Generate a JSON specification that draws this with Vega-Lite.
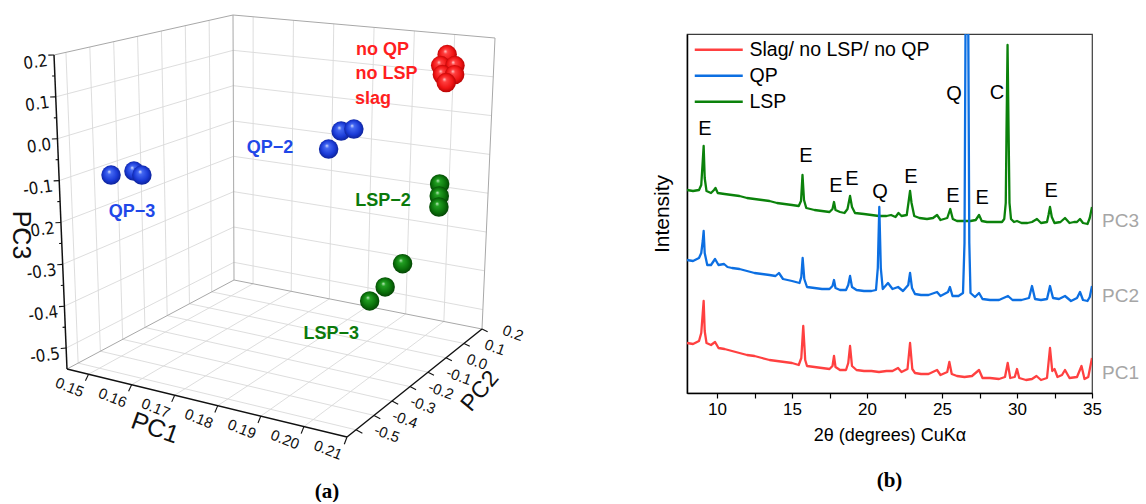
{
 "$schema": "https://vega.github.io/schema/vega-lite/v6.json",
 "padding": 0,
 "background": "white",
 "config": {"font": "Liberation Sans", "view": {"stroke": null}},
 "bounds": "flush",
 "spacing": 67,
 "datasets": {
  "L": [
   {"k":"g","a":0.15,"b":0.2,"c":-0.55,"a2":0.15,"b2":0.2,"c2":0.2},
   {"k":"g","a":0.16,"b":0.2,"c":-0.55,"a2":0.16,"b2":0.2,"c2":0.2},
   {"k":"g","a":0.17,"b":0.2,"c":-0.55,"a2":0.17,"b2":0.2,"c2":0.2},
   {"k":"g","a":0.18,"b":0.2,"c":-0.55,"a2":0.18,"b2":0.2,"c2":0.2},
   {"k":"g","a":0.19,"b":0.2,"c":-0.55,"a2":0.19,"b2":0.2,"c2":0.2},
   {"k":"g","a":0.20,"b":0.2,"c":-0.55,"a2":0.20,"b2":0.2,"c2":0.2},
   {"k":"g","a":0.145,"b":0.2,"c":-0.5,"a2":0.21,"b2":0.2,"c2":-0.5},
   {"k":"g","a":0.145,"b":0.2,"c":-0.4,"a2":0.21,"b2":0.2,"c2":-0.4},
   {"k":"g","a":0.145,"b":0.2,"c":-0.3,"a2":0.21,"b2":0.2,"c2":-0.3},
   {"k":"g","a":0.145,"b":0.2,"c":-0.2,"a2":0.21,"b2":0.2,"c2":-0.2},
   {"k":"g","a":0.145,"b":0.2,"c":-0.1,"a2":0.21,"b2":0.2,"c2":-0.1},
   {"k":"g","a":0.145,"b":0.2,"c":0.0,"a2":0.21,"b2":0.2,"c2":0.0},
   {"k":"g","a":0.145,"b":0.2,"c":0.1,"a2":0.21,"b2":0.2,"c2":0.1},
   {"k":"g","a":0.145,"b":-0.5,"c":-0.55,"a2":0.145,"b2":-0.5,"c2":0.2},
   {"k":"g","a":0.145,"b":-0.4,"c":-0.55,"a2":0.145,"b2":-0.4,"c2":0.2},
   {"k":"g","a":0.145,"b":-0.3,"c":-0.55,"a2":0.145,"b2":-0.3,"c2":0.2},
   {"k":"g","a":0.145,"b":-0.2,"c":-0.55,"a2":0.145,"b2":-0.2,"c2":0.2},
   {"k":"g","a":0.145,"b":-0.1,"c":-0.55,"a2":0.145,"b2":-0.1,"c2":0.2},
   {"k":"g","a":0.145,"b":0.0,"c":-0.55,"a2":0.145,"b2":0.0,"c2":0.2},
   {"k":"g","a":0.145,"b":0.1,"c":-0.55,"a2":0.145,"b2":0.1,"c2":0.2},
   {"k":"g","a":0.145,"b":-0.55,"c":-0.5,"a2":0.145,"b2":0.2,"c2":-0.5},
   {"k":"g","a":0.145,"b":-0.55,"c":-0.4,"a2":0.145,"b2":0.2,"c2":-0.4},
   {"k":"g","a":0.145,"b":-0.55,"c":-0.3,"a2":0.145,"b2":0.2,"c2":-0.3},
   {"k":"g","a":0.145,"b":-0.55,"c":-0.2,"a2":0.145,"b2":0.2,"c2":-0.2},
   {"k":"g","a":0.145,"b":-0.55,"c":-0.1,"a2":0.145,"b2":0.2,"c2":-0.1},
   {"k":"g","a":0.145,"b":-0.55,"c":0.0,"a2":0.145,"b2":0.2,"c2":0.0},
   {"k":"g","a":0.145,"b":-0.55,"c":0.1,"a2":0.145,"b2":0.2,"c2":0.1},
   {"k":"g","a":0.15,"b":-0.55,"c":-0.55,"a2":0.15,"b2":0.2,"c2":-0.55},
   {"k":"g","a":0.16,"b":-0.55,"c":-0.55,"a2":0.16,"b2":0.2,"c2":-0.55},
   {"k":"g","a":0.17,"b":-0.55,"c":-0.55,"a2":0.17,"b2":0.2,"c2":-0.55},
   {"k":"g","a":0.18,"b":-0.55,"c":-0.55,"a2":0.18,"b2":0.2,"c2":-0.55},
   {"k":"g","a":0.19,"b":-0.55,"c":-0.55,"a2":0.19,"b2":0.2,"c2":-0.55},
   {"k":"g","a":0.20,"b":-0.55,"c":-0.55,"a2":0.20,"b2":0.2,"c2":-0.55},
   {"k":"g","a":0.145,"b":-0.5,"c":-0.55,"a2":0.21,"b2":-0.5,"c2":-0.55},
   {"k":"g","a":0.145,"b":-0.4,"c":-0.55,"a2":0.21,"b2":-0.4,"c2":-0.55},
   {"k":"g","a":0.145,"b":-0.3,"c":-0.55,"a2":0.21,"b2":-0.3,"c2":-0.55},
   {"k":"g","a":0.145,"b":-0.2,"c":-0.55,"a2":0.21,"b2":-0.2,"c2":-0.55},
   {"k":"g","a":0.145,"b":-0.1,"c":-0.55,"a2":0.21,"b2":-0.1,"c2":-0.55},
   {"k":"g","a":0.145,"b":0.0,"c":-0.55,"a2":0.21,"b2":0.0,"c2":-0.55},
   {"k":"g","a":0.145,"b":0.1,"c":-0.55,"a2":0.21,"b2":0.1,"c2":-0.55},
   {"k":"e","a":0.145,"b":0.2,"c":0.2,"a2":0.21,"b2":0.2,"c2":0.2},
   {"k":"e","a":0.21,"b":0.2,"c":-0.55,"a2":0.21,"b2":0.2,"c2":0.2},
   {"k":"e","a":0.145,"b":0.2,"c":-0.55,"a2":0.145,"b2":0.2,"c2":0.2},
   {"k":"e","a":0.145,"b":0.2,"c":-0.55,"a2":0.21,"b2":0.2,"c2":-0.55},
   {"k":"e","a":0.145,"b":-0.55,"c":0.2,"a2":0.145,"b2":0.2,"c2":0.2},
   {"k":"e","a":0.145,"b":-0.55,"c":-0.55,"a2":0.145,"b2":0.2,"c2":-0.55},
   {"k":"ax","a":0.145,"b":-0.55,"c":-0.55,"a2":0.145,"b2":-0.55,"c2":0.2},
   {"k":"ax","a":0.145,"b":-0.55,"c":-0.55,"a2":0.21,"b2":-0.55,"c2":-0.55},
   {"k":"ax","a":0.21,"b":-0.55,"c":-0.55,"a2":0.21,"b2":0.2,"c2":-0.55},
   {"k":"P3","a":0.145,"b":-0.55,"c":0.2,"t":"0.2"},
   {"k":"P3","a":0.145,"b":-0.55,"c":0.1,"t":"0.1"},
   {"k":"P3","a":0.145,"b":-0.55,"c":0.0,"t":"0.0"},
   {"k":"P3","a":0.145,"b":-0.55,"c":-0.1,"t":"-0.1"},
   {"k":"P3","a":0.145,"b":-0.55,"c":-0.2,"t":"-0.2"},
   {"k":"P3","a":0.145,"b":-0.55,"c":-0.3,"t":"-0.3"},
   {"k":"P3","a":0.145,"b":-0.55,"c":-0.4,"t":"-0.4"},
   {"k":"P3","a":0.145,"b":-0.55,"c":-0.5,"t":"-0.5"},
   {"k":"m3","a":0.145,"b":-0.55,"c":0.15},
   {"k":"m3","a":0.145,"b":-0.55,"c":0.05},
   {"k":"m3","a":0.145,"b":-0.55,"c":-0.05},
   {"k":"m3","a":0.145,"b":-0.55,"c":-0.15},
   {"k":"m3","a":0.145,"b":-0.55,"c":-0.25},
   {"k":"m3","a":0.145,"b":-0.55,"c":-0.35},
   {"k":"m3","a":0.145,"b":-0.55,"c":-0.45},
   {"k":"P1","a":0.15,"b":-0.55,"c":-0.55,"t":"0.15"},
   {"k":"P1","a":0.16,"b":-0.55,"c":-0.55,"t":"0.16"},
   {"k":"P1","a":0.17,"b":-0.55,"c":-0.55,"t":"0.17"},
   {"k":"P1","a":0.18,"b":-0.55,"c":-0.55,"t":"0.18"},
   {"k":"P1","a":0.19,"b":-0.55,"c":-0.55,"t":"0.19"},
   {"k":"P1","a":0.20,"b":-0.55,"c":-0.55,"t":"0.20"},
   {"k":"P1","a":0.21,"b":-0.55,"c":-0.55,"t":"0.21"},
   {"k":"P2","a":0.21,"b":-0.5,"c":-0.55,"t":"-0.5"},
   {"k":"P2","a":0.21,"b":-0.4,"c":-0.55,"t":"-0.4"},
   {"k":"P2","a":0.21,"b":-0.3,"c":-0.55,"t":"-0.3"},
   {"k":"P2","a":0.21,"b":-0.2,"c":-0.55,"t":"-0.2"},
   {"k":"P2","a":0.21,"b":-0.1,"c":-0.55,"t":"-0.1"},
   {"k":"P2","a":0.21,"b":0.0,"c":-0.55,"t":"0.0"},
   {"k":"P2","a":0.21,"b":0.1,"c":-0.55,"t":"0.1"},
   {"k":"P2","a":0.21,"b":0.2,"c":-0.55,"t":"0.2"},
   {"k":"T3","a":0.145,"b":-0.55,"c":-0.2,"t":"PC3"},
   {"k":"T1","a":0.1725,"b":-0.55,"c":-0.55,"t":"PC1"},
   {"k":"T2","a":0.21,"b":-0.15,"c":-0.55,"t":"PC2"},
   {"k":"s","g":"R","a":0.2020,"b":0.125,"c":0.1643},
   {"k":"s","g":"R","a":0.2005,"b":0.125,"c":0.1346},
   {"k":"s","g":"R","a":0.2040,"b":0.125,"c":0.1382},
   {"k":"s","g":"R","a":0.2010,"b":0.125,"c":0.1121},
   {"k":"s","g":"R","a":0.2040,"b":0.125,"c":0.1152},
   {"k":"s","g":"R","a":0.2020,"b":0.125,"c":0.0926},
   {"k":"s","g":"B","a":0.1509,"b":-0.4375,"c":-0.0975},
   {"k":"s","g":"B","a":0.1562,"b":-0.4375,"c":-0.0784},
   {"k":"s","g":"B","a":0.1580,"b":-0.4375,"c":-0.0848},
   {"k":"s","g":"B","a":0.1821,"b":0.0125,"c":-0.0323},
   {"k":"s","g":"B","a":0.1852,"b":0.0125,"c":-0.0228},
   {"k":"s","g":"B","a":0.1791,"b":0.0125,"c":-0.0827},
   {"k":"s","g":"G","a":0.2030,"b":0.0875,"c":-0.1555},
   {"k":"s","g":"G","a":0.2030,"b":0.0875,"c":-0.1859},
   {"k":"s","g":"G","a":0.2030,"b":0.0875,"c":-0.2138},
   {"k":"s","g":"G","a":0.2065,"b":-0.175,"c":-0.2735},
   {"k":"s","g":"G","a":0.2024,"b":-0.175,"c":-0.3365},
   {"k":"s","g":"G","a":0.1987,"b":-0.175,"c":-0.3771},
   {"k":"l","g":"B","a":0.1555,"b":-0.4375,"c":-0.1785,"t":"QP−3"},
   {"k":"l","g":"B","a":0.1647,"b":0.0125,"c":-0.1028,"t":"QP−2"},
   {"k":"l","g":"G","a":0.18898,"b":0.0875,"c":-0.2205,"t":"LSP−2"},
   {"k":"l","g":"G","a":0.18945,"b":-0.175,"c":-0.4765,"t":"LSP−3"},
   {"k":"r","g":"R","a":0.1796,"b":0.125,"c":0.1533,"t":"no QP"},
   {"k":"r","g":"R","a":0.1796,"b":0.125,"c":0.0893,"t":"no LSP"},
   {"k":"r","g":"R","a":0.1796,"b":0.125,"c":0.0228,"t":"slag"}
  ],
  "X": [
   {"s":"R","x":8.0,"y":50},{"s":"R","x":8.4,"y":49},{"s":"R","x":8.8,"y":52},{"s":"R","x":8.95,"y":60},{"s":"R","x":9.05,"y":80},{"s":"R","x":9.11,"y":92},{"s":"R","x":9.18,"y":62},{"s":"R","x":9.3,"y":50},{"s":"R","x":9.6,"y":48},{"s":"R","x":9.87,"y":51},{"s":"R","x":10.1,"y":45},{"s":"R","x":10.5,"y":44},{"s":"R","x":11.0,"y":42},{"s":"R","x":11.5,"y":40},{"s":"R","x":12.0,"y":38},{"s":"R","x":12.5,"y":37},{"s":"R","x":13.0,"y":35},{"s":"R","x":13.5,"y":33},{"s":"R","x":14.0,"y":32},{"s":"R","x":14.5,"y":31},{"s":"R","x":15.0,"y":30},{"s":"R","x":15.45,"y":28},{"s":"R","x":15.62,"y":35},{"s":"R","x":15.75,"y":67},{"s":"R","x":15.88,"y":33},{"s":"R","x":16.0,"y":27},{"s":"R","x":16.5,"y":26},{"s":"R","x":17.0,"y":25},{"s":"R","x":17.5,"y":24},{"s":"R","x":17.7,"y":27},{"s":"R","x":17.8,"y":37},{"s":"R","x":17.9,"y":26},{"s":"R","x":18.2,"y":23},{"s":"R","x":18.6,"y":23},{"s":"R","x":18.75,"y":30},{"s":"R","x":18.87,"y":47},{"s":"R","x":19.0,"y":27},{"s":"R","x":19.3,"y":23},{"s":"R","x":19.8,"y":22},{"s":"R","x":20.3,"y":22},{"s":"R","x":20.8,"y":21},{"s":"R","x":21.3,"y":22},{"s":"R","x":21.7,"y":22},{"s":"R","x":22.07,"y":25},{"s":"R","x":22.3,"y":21},{"s":"R","x":22.7,"y":24},{"s":"R","x":22.87,"y":50},{"s":"R","x":23.02,"y":24},{"s":"R","x":23.2,"y":20},{"s":"R","x":23.6,"y":19},{"s":"R","x":24.1,"y":19},{"s":"R","x":24.67,"y":23},{"s":"R","x":24.9,"y":18},{"s":"R","x":25.35,"y":21},{"s":"R","x":25.49,"y":31},{"s":"R","x":25.65,"y":19},{"s":"R","x":26.0,"y":17},{"s":"R","x":26.5,"y":16},{"s":"R","x":27.0,"y":17},{"s":"R","x":27.47,"y":23},{"s":"R","x":27.7,"y":15},{"s":"R","x":28.2,"y":15},{"s":"R","x":28.8,"y":14},{"s":"R","x":29.2,"y":16},{"s":"R","x":29.38,"y":30},{"s":"R","x":29.55,"y":15},{"s":"R","x":29.85,"y":16},{"s":"R","x":30.0,"y":24},{"s":"R","x":30.15,"y":15},{"s":"R","x":30.6,"y":13},{"s":"R","x":31.0,"y":14},{"s":"R","x":31.3,"y":17},{"s":"R","x":31.6,"y":13},{"s":"R","x":32.0,"y":15},{"s":"R","x":32.2,"y":45},{"s":"R","x":32.35,"y":22},{"s":"R","x":32.5,"y":24},{"s":"R","x":32.7,"y":16},{"s":"R","x":33.0,"y":18},{"s":"R","x":33.2,"y":23},{"s":"R","x":33.5,"y":15},{"s":"R","x":34.0,"y":16},{"s":"R","x":34.3,"y":27},{"s":"R","x":34.5,"y":14},{"s":"R","x":34.75,"y":16},{"s":"R","x":35.0,"y":35},
   {"s":"G","x":8.0,"y":203},{"s":"G","x":8.4,"y":202},{"s":"G","x":8.8,"y":203},{"s":"G","x":8.95,"y":208},{"s":"G","x":9.05,"y":232},{"s":"G","x":9.11,"y":247},{"s":"G","x":9.18,"y":215},{"s":"G","x":9.3,"y":202},{"s":"G","x":9.6,"y":200},{"s":"G","x":9.8,"y":203},{"s":"G","x":9.9,"y":205},{"s":"G","x":10.05,"y":200},{"s":"G","x":10.5,"y":199},{"s":"G","x":11.0,"y":198},{"s":"G","x":11.5,"y":197},{"s":"G","x":12.0,"y":195},{"s":"G","x":12.5,"y":194},{"s":"G","x":13.0,"y":193},{"s":"G","x":13.5,"y":192},{"s":"G","x":14.0,"y":190},{"s":"G","x":14.5,"y":189},{"s":"G","x":15.0,"y":188},{"s":"G","x":15.45,"y":187},{"s":"G","x":15.6,"y":192},{"s":"G","x":15.7,"y":218},{"s":"G","x":15.8,"y":193},{"s":"G","x":15.95,"y":185},{"s":"G","x":16.5,"y":183},{"s":"G","x":17.0,"y":182},{"s":"G","x":17.5,"y":181},{"s":"G","x":17.7,"y":184},{"s":"G","x":17.8,"y":191},{"s":"G","x":17.9,"y":183},{"s":"G","x":18.2,"y":181},{"s":"G","x":18.5,"y":180},{"s":"G","x":18.7,"y":184},{"s":"G","x":18.87,"y":197},{"s":"G","x":19.0,"y":186},{"s":"G","x":19.2,"y":180},{"s":"G","x":19.8,"y":179},{"s":"G","x":20.3,"y":178},{"s":"G","x":20.8,"y":177},{"s":"G","x":21.3,"y":177},{"s":"G","x":21.6,"y":178},{"s":"G","x":21.9,"y":176},{"s":"G","x":22.1,"y":180},{"s":"G","x":22.3,"y":177},{"s":"G","x":22.65,"y":178},{"s":"G","x":22.78,"y":192},{"s":"G","x":22.87,"y":202},{"s":"G","x":22.97,"y":190},{"s":"G","x":23.15,"y":177},{"s":"G","x":23.5,"y":175},{"s":"G","x":24.0,"y":174},{"s":"G","x":24.4,"y":175},{"s":"G","x":24.67,"y":178},{"s":"G","x":24.9,"y":173},{"s":"G","x":25.35,"y":175},{"s":"G","x":25.55,"y":184},{"s":"G","x":25.72,"y":174},{"s":"G","x":26.0,"y":172},{"s":"G","x":26.4,"y":172},{"s":"G","x":26.9,"y":172},{"s":"G","x":27.25,"y":173},{"s":"G","x":27.47,"y":178},{"s":"G","x":27.65,"y":172},{"s":"G","x":28.0,"y":171},{"s":"G","x":28.5,"y":171},{"s":"G","x":29.0,"y":171},{"s":"G","x":29.15,"y":174},{"s":"G","x":29.25,"y":190},{"s":"G","x":29.3,"y":260},{"s":"G","x":29.37,"y":348},{"s":"G","x":29.44,"y":260},{"s":"G","x":29.5,"y":190},{"s":"G","x":29.6,"y":174},{"s":"G","x":29.8,"y":171},{"s":"G","x":30.0,"y":172},{"s":"G","x":30.3,"y":170},{"s":"G","x":30.7,"y":170},{"s":"G","x":31.0,"y":171},{"s":"G","x":31.33,"y":174},{"s":"G","x":31.6,"y":170},{"s":"G","x":32.0,"y":171},{"s":"G","x":32.1,"y":178},{"s":"G","x":32.2,"y":186},{"s":"G","x":32.32,"y":176},{"s":"G","x":32.5,"y":170},{"s":"G","x":32.9,"y":171},{"s":"G","x":33.2,"y":175},{"s":"G","x":33.5,"y":170},{"s":"G","x":33.8,"y":171},{"s":"G","x":34.0,"y":171},{"s":"G","x":34.2,"y":174},{"s":"G","x":34.4,"y":170},{"s":"G","x":34.7,"y":169},{"s":"G","x":34.85,"y":175},{"s":"G","x":35.0,"y":186},
   {"s":"B","x":8.0,"y":133},{"s":"B","x":8.4,"y":132},{"s":"B","x":8.8,"y":135},{"s":"B","x":8.95,"y":140},{"s":"B","x":9.05,"y":152},{"s":"B","x":9.11,"y":162},{"s":"B","x":9.18,"y":140},{"s":"B","x":9.35,"y":128},{"s":"B","x":9.6,"y":128},{"s":"B","x":9.87,"y":134},{"s":"B","x":10.1,"y":128},{"s":"B","x":10.47,"y":129},{"s":"B","x":10.7,"y":126},{"s":"B","x":11.0,"y":125},{"s":"B","x":11.5,"y":124},{"s":"B","x":12.0,"y":122},{"s":"B","x":12.5,"y":120},{"s":"B","x":13.0,"y":119},{"s":"B","x":13.5,"y":118},{"s":"B","x":13.9,"y":117},{"s":"B","x":14.13,"y":120},{"s":"B","x":14.4,"y":114},{"s":"B","x":15.0,"y":112},{"s":"B","x":15.5,"y":110},{"s":"B","x":15.62,"y":116},{"s":"B","x":15.71,"y":135},{"s":"B","x":15.82,"y":114},{"s":"B","x":16.0,"y":106},{"s":"B","x":16.5,"y":105},{"s":"B","x":17.0,"y":104},{"s":"B","x":17.5,"y":104},{"s":"B","x":17.7,"y":107},{"s":"B","x":17.8,"y":113},{"s":"B","x":17.9,"y":105},{"s":"B","x":18.2,"y":103},{"s":"B","x":18.6,"y":103},{"s":"B","x":18.75,"y":108},{"s":"B","x":18.87,"y":117},{"s":"B","x":19.0,"y":106},{"s":"B","x":19.3,"y":103},{"s":"B","x":19.8,"y":102},{"s":"B","x":20.3,"y":102},{"s":"B","x":20.6,"y":103},{"s":"B","x":20.72,"y":125},{"s":"B","x":20.82,"y":186},{"s":"B","x":20.92,"y":125},{"s":"B","x":21.05,"y":104},{"s":"B","x":21.4,"y":110},{"s":"B","x":21.7,"y":104},{"s":"B","x":22.07,"y":106},{"s":"B","x":22.4,"y":102},{"s":"B","x":22.75,"y":108},{"s":"B","x":22.87,"y":120},{"s":"B","x":23.0,"y":105},{"s":"B","x":23.2,"y":99},{"s":"B","x":23.6,"y":98},{"s":"B","x":24.1,"y":98},{"s":"B","x":24.67,"y":101},{"s":"B","x":24.9,"y":97},{"s":"B","x":25.4,"y":101},{"s":"B","x":25.53,"y":106},{"s":"B","x":25.7,"y":97},{"s":"B","x":26.1,"y":97},{"s":"B","x":26.4,"y":100},{"s":"B","x":26.5,"y":150},{"s":"B","x":26.56,"y":340},{"s":"B","x":26.62,"y":520},{"s":"B","x":26.7,"y":520},{"s":"B","x":26.76,"y":340},{"s":"B","x":26.82,"y":150},{"s":"B","x":26.9,"y":100},{"s":"B","x":27.2,"y":96},{"s":"B","x":27.47,"y":100},{"s":"B","x":27.7,"y":94},{"s":"B","x":28.2,"y":93},{"s":"B","x":28.8,"y":93},{"s":"B","x":29.4,"y":97},{"s":"B","x":29.7,"y":93},{"s":"B","x":30.3,"y":93},{"s":"B","x":30.8,"y":95},{"s":"B","x":31.0,"y":107},{"s":"B","x":31.2,"y":94},{"s":"B","x":31.6,"y":93},{"s":"B","x":32.0,"y":94},{"s":"B","x":32.2,"y":107},{"s":"B","x":32.4,"y":95},{"s":"B","x":32.8,"y":94},{"s":"B","x":33.2,"y":97},{"s":"B","x":33.6,"y":92},{"s":"B","x":34.0,"y":95},{"s":"B","x":34.2,"y":101},{"s":"B","x":34.4,"y":93},{"s":"B","x":34.7,"y":92},{"s":"B","x":34.85,"y":96},{"s":"B","x":35.0,"y":107}
  ],
  "A": [
   {"x":9.2,"y":264,"t":"E"},{"x":15.93,"y":237,"t":"E"},{"x":17.93,"y":207,"t":"E"},{"x":19.0,"y":214,"t":"E"},{"x":20.87,"y":201,"t":"Q"},{"x":22.93,"y":216,"t":"E"},{"x":25.73,"y":197,"t":"E"},{"x":27.67,"y":195,"t":"E"},{"x":25.8,"y":299,"t":"Q"},{"x":28.67,"y":300,"t":"C"},{"x":32.27,"y":202,"t":"E"}
  ],
  "P": [
   {"x":35,"y":172,"t":"PC3"},{"x":35,"y":97,"t":"PC2"},{"x":35,"y":20,"t":"PC1"}
  ]
 },
 "hconcat": [
  {
   "width": 620,
   "height": 470,
   "title": {"text": "(a)", "orient": "bottom", "frame": "group", "offset": 8, "dx": 17, "font": "Liberation Serif", "fontSize": 21, "fontWeight": "bold", "color": "#000", "anchor": "middle", "baseline": "top"},
   "data": {"name": "L"},
   "transform": [
    {"calculate": "isValid(datum.a2) ? datum.a2 : datum.a + (datum.k=='P3' ? -0.0007 : datum.k=='m3' ? -0.00035 : datum.k=='P2' ? 0.0015 : 0)", "as": "A2"},
    {"calculate": "isValid(datum.b2) ? datum.b2 : datum.b + (datum.k=='P3' ? -0.0105 : datum.k=='m3' ? -0.005 : datum.k=='P1' ? -0.015 : 0)", "as": "B2"},
    {"calculate": "isValid(datum.c2) ? datum.c2 : datum.c + (datum.k=='P1' ? -0.011 : datum.k=='P2' ? -0.004 : 0)", "as": "C2"},
    {"calculate": "(datum.a-0.145)/0.065", "as": "u"},
    {"calculate": "(datum.b+0.55)/0.75", "as": "v"},
    {"calculate": "(datum.c+0.55)/0.75", "as": "w"},
    {"calculate": "(datum.A2-0.145)/0.065", "as": "u2"},
    {"calculate": "(datum.B2+0.55)/0.75", "as": "v2"},
    {"calculate": "(datum.C2+0.55)/0.75", "as": "w2"},
    {"calculate": "(1-datum.w)*((1-datum.v)*(67+280*datum.u)+datum.v*(234+248*datum.u))+datum.w*((1-datum.v)*(54+294*datum.u)+datum.v*(233+262*datum.u))", "as": "X"},
    {"calculate": "(1-datum.w)*((1-datum.v)*(366+68*datum.u)+datum.v*(277+49*datum.u))+datum.w*((1-datum.v)*(52+40*datum.u)+datum.v*(12+23*datum.u))", "as": "Y"},
    {"calculate": "(1-datum.w2)*((1-datum.v2)*(67+280*datum.u2)+datum.v2*(234+248*datum.u2))+datum.w2*((1-datum.v2)*(54+294*datum.u2)+datum.v2*(233+262*datum.u2))", "as": "X2"},
    {"calculate": "(1-datum.w2)*((1-datum.v2)*(366+68*datum.u2)+datum.v2*(277+49*datum.u2))+datum.w2*((1-datum.v2)*(52+40*datum.u2)+datum.v2*(12+23*datum.u2))", "as": "Y2"}
   ],
   "encoding": {
    "x": {"field": "X", "type": "quantitative", "scale": {"domain": [0, 620], "nice": false, "zero": false}, "axis": null},
    "y": {"field": "Y", "type": "quantitative", "scale": {"domain": [0, 470], "reverse": true, "nice": false, "zero": false}, "axis": null}
   },
   "layer": [
    {"transform": [{"filter": "datum.k=='g'"}], "mark": {"type": "rule", "stroke": "#d9d9d9", "strokeWidth": 0.9}, "encoding": {"x2": {"field": "X2"}, "y2": {"field": "Y2"}}},
    {"transform": [{"filter": "datum.k=='e'"}], "mark": {"type": "rule", "stroke": "#a8a8a8", "strokeWidth": 1}, "encoding": {"x2": {"field": "X2"}, "y2": {"field": "Y2"}}},
    {"transform": [{"filter": "datum.k=='ax'"}], "mark": {"type": "rule", "stroke": "#111", "strokeWidth": 1.5}, "encoding": {"x2": {"field": "X2"}, "y2": {"field": "Y2"}}},
    {"transform": [{"filter": "indexof(['P1','P2','P3','m3'], datum.k) >= 0"}], "mark": {"type": "rule", "stroke": "#111", "strokeWidth": 1.1}, "encoding": {"x2": {"field": "X2"}, "y2": {"field": "Y2"}}},
    {"transform": [{"filter": "datum.k=='P3'"}], "mark": {"type": "text", "align": "right", "baseline": "middle", "dx": -7, "dy": 5, "angle": 352, "fontSize": 17, "font": "Liberation Sans Narrow, DejaVu Sans Condensed, Liberation Sans", "color": "#111"}, "encoding": {"text": {"field": "t"}}},
    {"transform": [{"filter": "datum.k=='P1'"}], "mark": {"type": "text", "align": "center", "baseline": "middle", "dx": -12.7, "dy": 19.2, "angle": 22, "fontSize": 15, "color": "#111"}, "encoding": {"text": {"field": "t"}}},
    {"transform": [{"filter": "datum.k=='P2'"}], "mark": {"type": "text", "align": "center", "baseline": "middle", "dx": 30.5, "dy": -6.8, "angle": 20, "fontSize": 15, "color": "#111"}, "encoding": {"text": {"field": "t"}}},
    {"transform": [{"filter": "datum.k=='T3'"}], "mark": {"type": "text", "align": "center", "baseline": "middle", "dx": 12.5, "dy": 40, "angle": 90, "fontSize": 25, "color": "#111"}, "encoding": {"text": {"field": "t"}}},
    {"transform": [{"filter": "datum.k=='T1'"}], "mark": {"type": "text", "align": "center", "baseline": "middle", "dx": -18.3, "dy": 38.8, "angle": 20, "fontSize": 25, "color": "#111"}, "encoding": {"text": {"field": "t"}}},
    {"transform": [{"filter": "datum.k=='T2'"}], "mark": {"type": "text", "align": "center", "baseline": "middle", "dx": 30.3, "dy": 54.2, "angle": 310, "fontSize": 23, "color": "#111"}, "encoding": {"text": {"field": "t"}}},
    {"transform": [{"filter": "datum.k=='s' && datum.g=='R'"}], "mark": {"type": "point", "shape": "circle", "filled": true, "size": 380, "opacity": 1, "strokeWidth": 0, "fill": {"gradient": "radial", "x1": 0.4, "y1": 0.32, "r1": 0, "x2": 0.5, "y2": 0.5, "r2": 0.55, "stops": [{"offset": 0, "color": "#ffd6d6"}, {"offset": 0.2, "color": "#ff4040"}, {"offset": 0.65, "color": "#f01414"}, {"offset": 1, "color": "#a80000"}]}}},
    {"transform": [{"filter": "datum.k=='s' && datum.g=='B'"}], "mark": {"type": "point", "shape": "circle", "filled": true, "size": 380, "opacity": 1, "strokeWidth": 0, "fill": {"gradient": "radial", "x1": 0.4, "y1": 0.32, "r1": 0, "x2": 0.5, "y2": 0.5, "r2": 0.55, "stops": [{"offset": 0, "color": "#dfe6ff"}, {"offset": 0.2, "color": "#4468f2"}, {"offset": 0.65, "color": "#1a3ad6"}, {"offset": 1, "color": "#0a1c8a"}]}}},
    {"transform": [{"filter": "datum.k=='s' && datum.g=='G'"}], "mark": {"type": "point", "shape": "circle", "filled": true, "size": 380, "opacity": 1, "strokeWidth": 0, "fill": {"gradient": "radial", "x1": 0.4, "y1": 0.32, "r1": 0, "x2": 0.5, "y2": 0.5, "r2": 0.55, "stops": [{"offset": 0, "color": "#c8f0c8"}, {"offset": 0.2, "color": "#22a022"}, {"offset": 0.65, "color": "#0a700a"}, {"offset": 1, "color": "#033a03"}]}}},
    {"transform": [{"filter": "datum.k=='l'"}], "mark": {"type": "text", "align": "center", "baseline": "middle", "fontSize": 18, "fontWeight": "bold"}, "encoding": {"text": {"field": "t"}, "color": {"condition": {"test": "datum.g=='G'", "value": "#0b7a0b"}, "value": "#1f48e8"}}},
    {"transform": [{"filter": "datum.k=='r'"}], "mark": {"type": "text", "align": "left", "baseline": "middle", "fontSize": 18, "fontWeight": "bold", "color": "#ff1f1f"}, "encoding": {"text": {"field": "t"}}}
   ]
  },
  {
   "bounds": "flush",
   "spacing": 30,
   "vconcat": [
    {"width": 405, "height": 1, "data": {"values": [{"z": 0}]}, "mark": {"type": "point", "opacity": 0}, "encoding": {}},
    {
     "width": 405,
     "height": 359,
     "view": {"stroke": "#3c3c3c", "strokeWidth": 1.2},
     "title": {"text": "(b)", "orient": "bottom", "offset": 26, "font": "Liberation Serif", "fontSize": 21, "fontWeight": "bold", "color": "#000", "anchor": "middle", "baseline": "top"},
     "layer": [
      {
       "data": {"name": "X"},
       "mark": {"type": "line", "strokeWidth": 2.3, "clip": true, "strokeJoin": "round"},
       "encoding": {
        "x": {"field": "x", "type": "quantitative", "scale": {"domain": [8, 35], "nice": false, "zero": false},
              "axis": {"title": "2θ (degrees) CuKα", "titleFontSize": 18, "titleFontWeight": "normal", "titleColor": "#000", "titlePadding": 9,
                       "values": [10, 12.5, 15, 17.5, 20, 22.5, 25, 27.5, 30, 32.5, 35], "labelExpr": "datum.value % 5 === 0 ? datum.label : ''",
                       "labelOverlap": false, "labelFlush": false, "labelFontSize": 17, "labelColor": "#000", "labelPadding": 3,
                       "tickColor": "#000", "tickSize": 5, "tickWidth": 1.2, "domainColor": "#000", "domainWidth": 1.5, "grid": false}},
        "y": {"field": "y", "type": "quantitative", "scale": {"domain": [0, 359], "nice": false, "zero": false},
              "axis": {"title": "Intensity", "titleFontSize": 21, "titleFontWeight": "normal", "titleColor": "#000", "labels": false, "ticks": false, "grid": false, "domainColor": "#000", "domainWidth": 1.5, "titlePadding": 15}},
        "color": {"field": "s", "type": "nominal", "sort": ["R", "B", "G"], "scale": {"domain": ["R", "B", "G"], "range": ["#ff4040", "#0c6fe2", "#0b820b"]},
                  "legend": {"orient": "none", "legendX": 691, "legendY": 37, "title": null, "padding": 0, "symbolType": "M-4,0H4", "symbolSize": 144, "symbolOffset": 18, "symbolStrokeWidth": 2.5, "labelFontSize": 19.5, "labelLimit": 400, "labelColor": "#000", "labelOffset": 21, "rowPadding": 5,
                             "labelExpr": "datum.value == 'R' ? 'Slag/ no LSP/ no QP' : datum.value == 'B' ? 'QP' : 'LSP'"}}
       }
      },
      {
       "data": {"name": "A"},
       "mark": {"type": "text", "align": "center", "baseline": "middle", "fontSize": 20, "color": "#000"},
       "encoding": {"x": {"field": "x", "type": "quantitative"}, "y": {"field": "y", "type": "quantitative"}, "text": {"field": "t"}}
      },
      {
       "data": {"name": "P"},
       "mark": {"type": "text", "align": "left", "baseline": "middle", "dx": 10, "fontSize": 19, "color": "#a6a6a6"},
       "encoding": {"x": {"field": "x", "type": "quantitative"}, "y": {"field": "y", "type": "quantitative"}, "text": {"field": "t"}}
      }
     ]
    }
   ]
  }
 ]
}
